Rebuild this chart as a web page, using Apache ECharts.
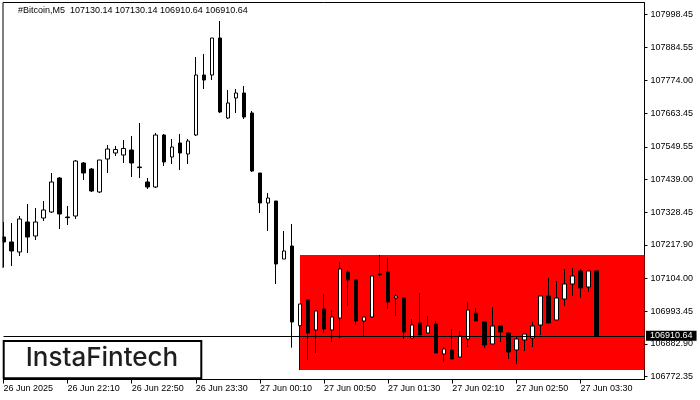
<!DOCTYPE html>
<html>
<head>
<meta charset="utf-8">
<script src="https://cdn.jsdelivr.net/npm/echarts@6/dist/echarts.min.js"></script>
<style>
html,body{margin:0;padding:0;background:#fff;}
#chart{width:700px;height:400px;}
</style>
</head>
<body>
<div id="chart"></div>
<script>
const title = '#Bitcoin,M5  107130.14 107130.14 106910.64 106910.64';
const firstDateLabel = '26 Jun 2025';
const logoText = 'InstaFintech';

const categories = [
'26 Jun 21:30','26 Jun 21:35','26 Jun 21:40','26 Jun 21:45','26 Jun 21:50','26 Jun 21:55',
'26 Jun 22:00','26 Jun 22:05','26 Jun 22:10','26 Jun 22:15','26 Jun 22:20','26 Jun 22:25',
'26 Jun 22:30','26 Jun 22:35','26 Jun 22:40','26 Jun 22:45','26 Jun 22:50','26 Jun 22:55',
'26 Jun 23:00','26 Jun 23:05','26 Jun 23:10','26 Jun 23:15','26 Jun 23:20','26 Jun 23:25',
'26 Jun 23:30','26 Jun 23:35','26 Jun 23:40','26 Jun 23:45','26 Jun 23:50','26 Jun 23:55',
'27 Jun 00:00','27 Jun 00:05','27 Jun 00:10','27 Jun 00:15','27 Jun 00:20','27 Jun 00:25',
'27 Jun 00:30','27 Jun 00:35','27 Jun 00:40','27 Jun 00:45','27 Jun 00:50','27 Jun 00:55',
'27 Jun 01:00','27 Jun 01:05','27 Jun 01:10','27 Jun 01:15','27 Jun 01:20','27 Jun 01:25',
'27 Jun 01:30','27 Jun 01:35','27 Jun 01:40','27 Jun 01:45','27 Jun 01:50','27 Jun 01:55',
'27 Jun 02:00','27 Jun 02:05','27 Jun 02:10','27 Jun 02:15','27 Jun 02:20','27 Jun 02:25',
'27 Jun 02:30','27 Jun 02:35','27 Jun 02:40','27 Jun 02:45','27 Jun 02:50','27 Jun 02:55',
'27 Jun 03:00','27 Jun 03:05','27 Jun 03:10','27 Jun 03:15','27 Jun 03:20','27 Jun 03:25',
'27 Jun 03:30','27 Jun 03:35','27 Jun 03:40','27 Jun 03:45','27 Jun 03:50','27 Jun 03:55',
'27 Jun 04:00','27 Jun 04:05','27 Jun 04:10'
];

const opens = [
107244.67,107227.77,107193.96,107295.39,107248.05,107308.91,107329.20,107444.15,107312.29,107315.67,
107494.87,107474.58,107396.82,107508.39,107528.68,107521.91,107538.82,107481.34,107430.63,107413.72,
107589.53,107515.15,107562.49,107525.30,107589.53,107792.39,107792.39,107917.49,107647.01,107714.63,
107731.54,107663.92,107461.06,107359.63,107366.39,107170.29,107214.24,106944.77,107031.67,106930.24,
107001.24,106930.24,106970.81,107126.34,107099.29,106960.67,106974.19,107119.58,107126.34,107038.43,
107038.43,106903.19,106953.91,106920.10,106950.53,106849.10,106862.62,106838.95,106899.81,106987.72,
106957.29,106882.91,106943.76,106920.10,106862.62,106896.43,106903.19,106947.14,107045.19,106964.05,
107035.05,107085.77,107129.72,107075.62,107130.14
];
const closes = [
107227.77,107197.34,107305.53,107244.67,107295.39,107335.96,107430.63,107322.44,107310.10,107501.63,
107461.06,107400.20,107505.01,107542.20,107540.50,107544.00,107494.87,107479.20,107413.72,107589.53,
107498.25,107548.96,107528.68,107569.25,107792.39,107775.49,107917.49,107667.30,107697.73,107731.54,
107650.39,107467.82,107359.63,107376.53,107153.39,107197.34,106957.29,107018.15,106920.10,106994.48,
106933.62,106974.19,107136.48,107099.29,106960.67,106974.19,107112.81,107117.40,107024.91,107045.19,
106923.48,106947.14,106913.33,106943.76,106852.48,106866.00,106832.19,106909.95,106997.86,106960.67,
106879.52,106943.76,106923.48,106855.86,106899.81,106916.72,106943.76,107045.19,106953.91,107038.43,
107085.77,107112.81,107072.24,107129.72,106910.64
];
const lows = [
107143.24,107146.62,107180.43,107190.58,107234.53,107298.77,107325.82,107271.72,107285.24,107305.53,
107437.39,107396.82,107393.44,107461.06,107518.53,107494.87,107447.53,107444.15,107406.96,107410.30,
107484.72,107491.49,107471.20,107491.49,107586.15,107745.06,107775.49,107664.00,107643.63,107663.92,
107643.63,107464.44,107325.82,107264.96,107085.77,107170.29,106870.40,106795.00,106828.81,106852.48,
106920.10,106889.67,106903.19,107011.38,106947.14,106906.57,106970.81,107113.00,107001.24,106977.57,
106899.81,106903.19,106913.33,106920.10,106852.48,106822.05,106832.19,106838.95,106872.76,106960.67,
106869.38,106882.91,106889.67,106832.19,106815.29,106859.24,106872.76,106913.33,106953.91,106964.05,
107011.38,107045.19,107038.43,107058.72,106910.64
];
const highs = [
107295.39,107292.01,107315.67,107356.25,107342.72,107366.39,107461.06,107447.53,107349.48,107505.01,
107498.25,107477.96,107505.01,107555.72,107552.34,107572.63,107586.15,107630.11,107444.15,107596.30,
107592.92,107576.01,107592.92,107576.01,107853.25,107863.40,107917.49,107974.97,107741.68,107745.06,
107755.20,107670.68,107461.06,107393.44,107366.39,107264.96,107288.63,107018.15,107031.67,106994.48,
107051.96,106997.86,107160.15,107133.10,107099.29,106974.19,107112.81,107183.81,107173.67,107051.96,
107038.43,106967.43,107055.34,106977.57,106960.67,106872.76,106933.62,106926.86,107024.91,107004.62,
106957.29,107008.00,106943.76,106920.10,106909.95,106916.72,106957.29,107045.19,107106.05,107095.91,
107136.48,107139.86,107136.48,107129.72,107130.14
];
const yTicks = [106772.35,106882.90,106993.45,107104.00,107217.90,107328.45,107439.00,107549.55,107663.45,107774.00,107884.55,107998.45];
const patternStart = 37;

const candleData = opens.map((o, i) => [o, closes[i], lows[i], highs[i]]);
const lastClose = closes[closes.length - 1];
const patHigh = Math.max(...highs.slice(patternStart));
const patLow = Math.min(...lows.slice(patternStart));

const FONT = 'Liberation Sans';
const chart = echarts.init(document.getElementById('chart'), null, {renderer: 'canvas'});
chart.setOption({
  animation: false,
  backgroundColor: '#fff',
  grid: {left: 3.5, right: 55.5, top: 2.5, bottom: 20.5, containLabel: false},
  xAxis: {
    type: 'category', data: categories, boundaryGap: false,
    axisLine: {lineStyle: {color: '#000', width: 1}},
    axisTick: {interval: 7, length: 4, lineStyle: {color: '#000'}},
    axisLabel: {interval: 7, align: 'left', margin: 5, fontSize: 9, fontFamily: FONT, color: '#000',
      showMaxLabel: false,
      formatter: (v, i) => (i === 0 ? firstDateLabel : (i >= opens.length ? '' : v))},
    splitLine: {show: false}
  },
  yAxis: {
    type: 'value', position: 'right', min: 106762.88, max: 108037.52,
    axisLine: {show: true, lineStyle: {color: '#000', width: 1}},
    axisTick: {show: true, length: 3, customValues: yTicks, lineStyle: {color: '#000'}},
    axisLabel: {customValues: yTicks, formatter: v => v.toFixed(2), fontSize: 9, fontFamily: FONT, color: '#000', margin: 6},
    splitLine: {show: false}
  },
  series: [
    {
      type: 'line', data: [], z: 1, silent: true,
      markArea: {
        silent: true,
        itemStyle: {color: '#ff0000', opacity: 1},
        data: [[{coord: [patternStart, patHigh]}, {coord: [categories.length - 1, patLow]}]]
      }
    },
    {
      type: 'line', data: [], z: 2, silent: true,
      markLine: {
        silent: true, symbol: 'none', animation: false,
        lineStyle: {color: '#000', type: 'solid', width: 1},
        label: {show: true, position: 'end', distance: 1.5, formatter: lastClose.toFixed(2),
          backgroundColor: '#000', color: '#fff', fontSize: 9, fontFamily: FONT, padding: [1, 4, 0, 4], lineHeight: 9},
        emphasis: {disabled: true},
        data: [{yAxis: lastClose}]
      }
    },
    {
      type: 'candlestick', z: 3, data: candleData, barWidth: 4, silent: true,
      itemStyle: {color: '#fff', color0: '#000', borderColor: '#000', borderColor0: '#000', borderColorDoji: '#000', borderWidth: 1}
    }
  ],
  graphic: [
    {type: 'rect', shape: {x: 0, y: 0, width: 2.5, height: 380}, style: {fill: '#fff'}, z: 9},
    {type: 'line', shape: {x1: 3, y1: 2.5, x2: 644.5, y2: 2.5}, style: {stroke: '#000', lineWidth: 1}, z: 10},
    {type: 'line', shape: {x1: 3, y1: 2.5, x2: 3, y2: 268}, style: {stroke: '#000', lineWidth: 1}, z: 10},
    {type: 'text', left: 18, top: 6, style: {text: title, fontSize: 9, fontFamily: FONT, fill: '#000'}, z: 10},
    {type: 'rect', shape: {x: 3.7, y: 341, width: 197.6, height: 37.3}, style: {fill: '#fff', stroke: '#000', lineWidth: 2}, z: 20},
    {type: 'text', x: 102, y: 358.5, style: {text: logoText, fontSize: 26, fontWeight: 500, fontFamily: 'Inter', fill: '#1e1e1e', align: 'center', verticalAlign: 'middle'}, z: 21}
  ]
});
</script>
</body>
</html>
